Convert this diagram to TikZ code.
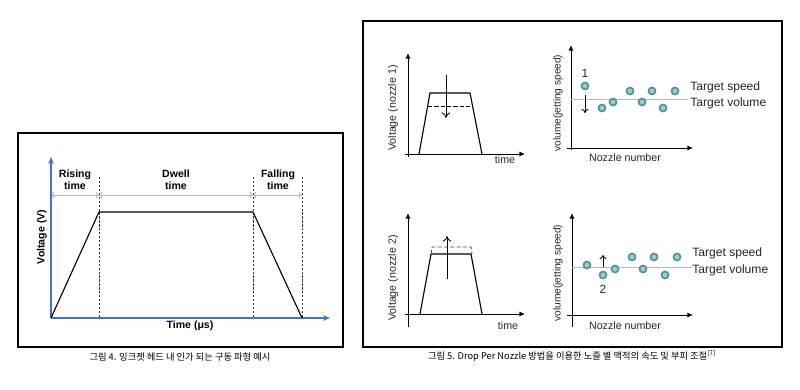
\documentclass[tikz,border=0pt]{standalone}
\usepackage{fontspec}
\setmainfont{Liberation Sans}
\newfontfamily\krfont{Noto Sans CJK KR}
\usepackage{tikz}
\usetikzlibrary{arrows.meta}
\usetikzlibrary{positioning}
\usepackage{xcolor}
\definecolor{axblue}{RGB}{68,114,196}
\definecolor{dimblue}{RGB}{150,190,228}
\definecolor{dotring}{RGB}{80,145,150}
\definecolor{dotfill}{RGB}{160,205,205}
\definecolor{tgtline}{RGB}{135,200,212}
\tikzset{
  frame/.style={line width=1pt},
  pulse/.style={line width=0.8pt},
  guide/.style={black!80, line width=0.35pt, dash pattern=on 1.6pt off 1.2pt},
  lab/.style={inner sep=0pt, font=\fontsize{7.5}{8.6}\selectfont\bfseries, align=center},
  plab/.style={inner sep=0pt, font=\fontsize{7.6}{9}\selectfont, text=black!85},
  ylab/.style={plab, rotate=90},
  dot/.style={circle, draw=dotring, fill=dotfill, line width=1.2pt, inner sep=0pt, minimum size=5pt},
  axis/.style={line width=0.6pt, -{Latex[length=4pt,width=3.5pt]}},
  caption/.style={inner sep=0pt, font=\krfont\fontsize{6.6}{8}\selectfont}
}
\begin{document}
\begin{tikzpicture}[x=0.025cm,y=-0.025cm]
\useasboundingbox (0,0) rectangle (800,389);
% Fig. 4
\draw[frame] (18,133) rectangle (343,347);
\coordinate (o) at (51,318);
\coordinate (ytop) at (51,157);
\coordinate (xend) at (330,318);
\coordinate (r) at (99,212);
\coordinate (f) at (253,212);
\coordinate (e) at (302,318);
\draw[guide] (99,177)--(99,318);
\draw[guide] (253,177)--(253,318);
\draw[guide] (302,177)--(302,318);
\draw[dimblue, line width=0.6pt, {To[length=2.5pt]}-{To[length=2.5pt]}] (51,195)--(99,195);
\draw[dimblue, line width=0.6pt, {To[length=2.5pt]}-{To[length=2.5pt]}] (99,195)--(253,195);
\draw[dimblue, line width=0.6pt, {To[length=2.5pt]}-{To[length=2.5pt]}] (253,195)--(302,195);
\draw[axblue, line width=1pt, -{Stealth[length=5pt,width=4pt]}] (o)--(ytop);
\draw[axblue, line width=1pt, -{Stealth[length=5pt,width=4pt]}] (o)--(xend);
\draw[pulse] (o)--(r)--(f)--(e);
\node[lab] (rise) at (75,180) {Rising\\time};
\node[lab] (dwell) at (176,180) {Dwell\\time};
\node[lab] (fall) at (278,180) {Falling\\time};
\node[lab, rotate=90] (volt) at (42,237) {Voltage (V)};
\node[lab] (tus) at (190,326) {Time (μs)};
\node[caption] (cap4) at (180,357) {그림 4. 잉크젯 헤드 내 인가 되는 구동 파형 예시};
% Fig. 5
\draw[frame] (363,21) rectangle (782,347);
% nozzle 1
\draw[axis] (408,157)--(408,53);
\draw[axis] (405,154)--(525,154);
\draw[pulse] (419,154)--(430,93)--(470,93)--(482,154);
\draw[dashed, dash pattern=on 3pt off 1.5pt, line width=0.6pt] (428,106)--(472,106);
\draw[line width=0.6pt, -{To[length=4pt,width=6pt]}] (446,75)--(446,118);
\node[plab] (t1) at (505,160) {time};
\node[ylab] (v1) at (393,108) {Voltage (nozzle 1)};
\draw[axis] (571,150)--(571,45);
\draw[axis] (567,148)--(693,148);
\draw[tgtline, line width=0.6pt] (571,99)--(688,99);
\node[dot] (a1) at (585,86) {};
\node[dot] (a2) at (602,108) {};
\node[dot] (a3) at (613,102) {};
\node[dot] (a4) at (630,91) {};
\node[dot] (a5) at (642,102) {};
\node[dot] (a6) at (652,91) {};
\node[dot] (a7) at (663,108) {};
\node[dot] (a8) at (675,91) {};
\node[plab, font=\fontsize{8.5}{9}\selectfont] (n1) at (585,73) {1};
\draw[line width=0.6pt, -{To[length=3pt,width=5pt]}] (585,95)--(585,113);
\node[plab, anchor=west, font=\fontsize{8.6}{9}\selectfont] (ts1) at (690,87) {Target speed};
\node[plab, anchor=west, font=\fontsize{8.6}{9}\selectfont] (tv1) at (690,103) {Target volume};
\node[plab] (nn1) at (625,158) {Nozzle number};
\node[ylab, font=\fontsize{7.2}{9}\selectfont] (j1) at (558,103) {volume(jetting speed)};
% nozzle 2
\draw[axis] (408,327)--(408,213);
\draw[axis] (405,314)--(525,314);
\draw[pulse] (420,314)--(431,254)--(471,254)--(482,314);
\draw[black!70, dash pattern=on 3pt off 1.5pt, line width=0.6pt] (431,254)--(432,247)--(471,247)--(472,254);
\draw[line width=0.6pt, -{To[length=4pt,width=6pt]}] (447,279)--(447,236);
\node[plab] (t2) at (508,326) {time};
\node[ylab] (v2) at (393,278) {Voltage (nozzle 2)};
\draw[axis] (572,327)--(572,213);
\draw[axis] (567,315)--(693,315);
\draw[tgtline, line width=0.6pt] (572,267)--(692,267);
\node[dot] (b1) at (587,265) {};
\node[dot] (b2) at (603,275) {};
\node[dot] (b3) at (615,269) {};
\node[dot] (b4) at (632,257) {};
\node[dot] (b5) at (643,269) {};
\node[dot] (b6) at (654,257) {};
\node[dot] (b7) at (665,275) {};
\node[dot] (b8) at (677,257) {};
\draw[line width=0.6pt, -{To[length=3pt,width=5pt]}] (603,267)--(603,255);
\node[plab, font=\fontsize{8.5}{9}\selectfont] (n2) at (603,289) {2};
\node[plab, anchor=west, font=\fontsize{8.6}{9}\selectfont] (ts2) at (692,253) {Target speed};
\node[plab, anchor=west, font=\fontsize{8.6}{9}\selectfont] (tv2) at (692,270) {Target volume};
\node[plab] (nn2) at (625,326) {Nozzle number};
\node[ylab, font=\fontsize{7.2}{9}\selectfont] (j2) at (558,273) {volume(jetting speed)};
\node[caption] (cap5) at (572,356) {그림 5. Drop Per Nozzle 방법을 이용한 노즐 별 액적의 속도 및 부피 조절\textsuperscript{[7]}};
\end{tikzpicture}
\end{document}
